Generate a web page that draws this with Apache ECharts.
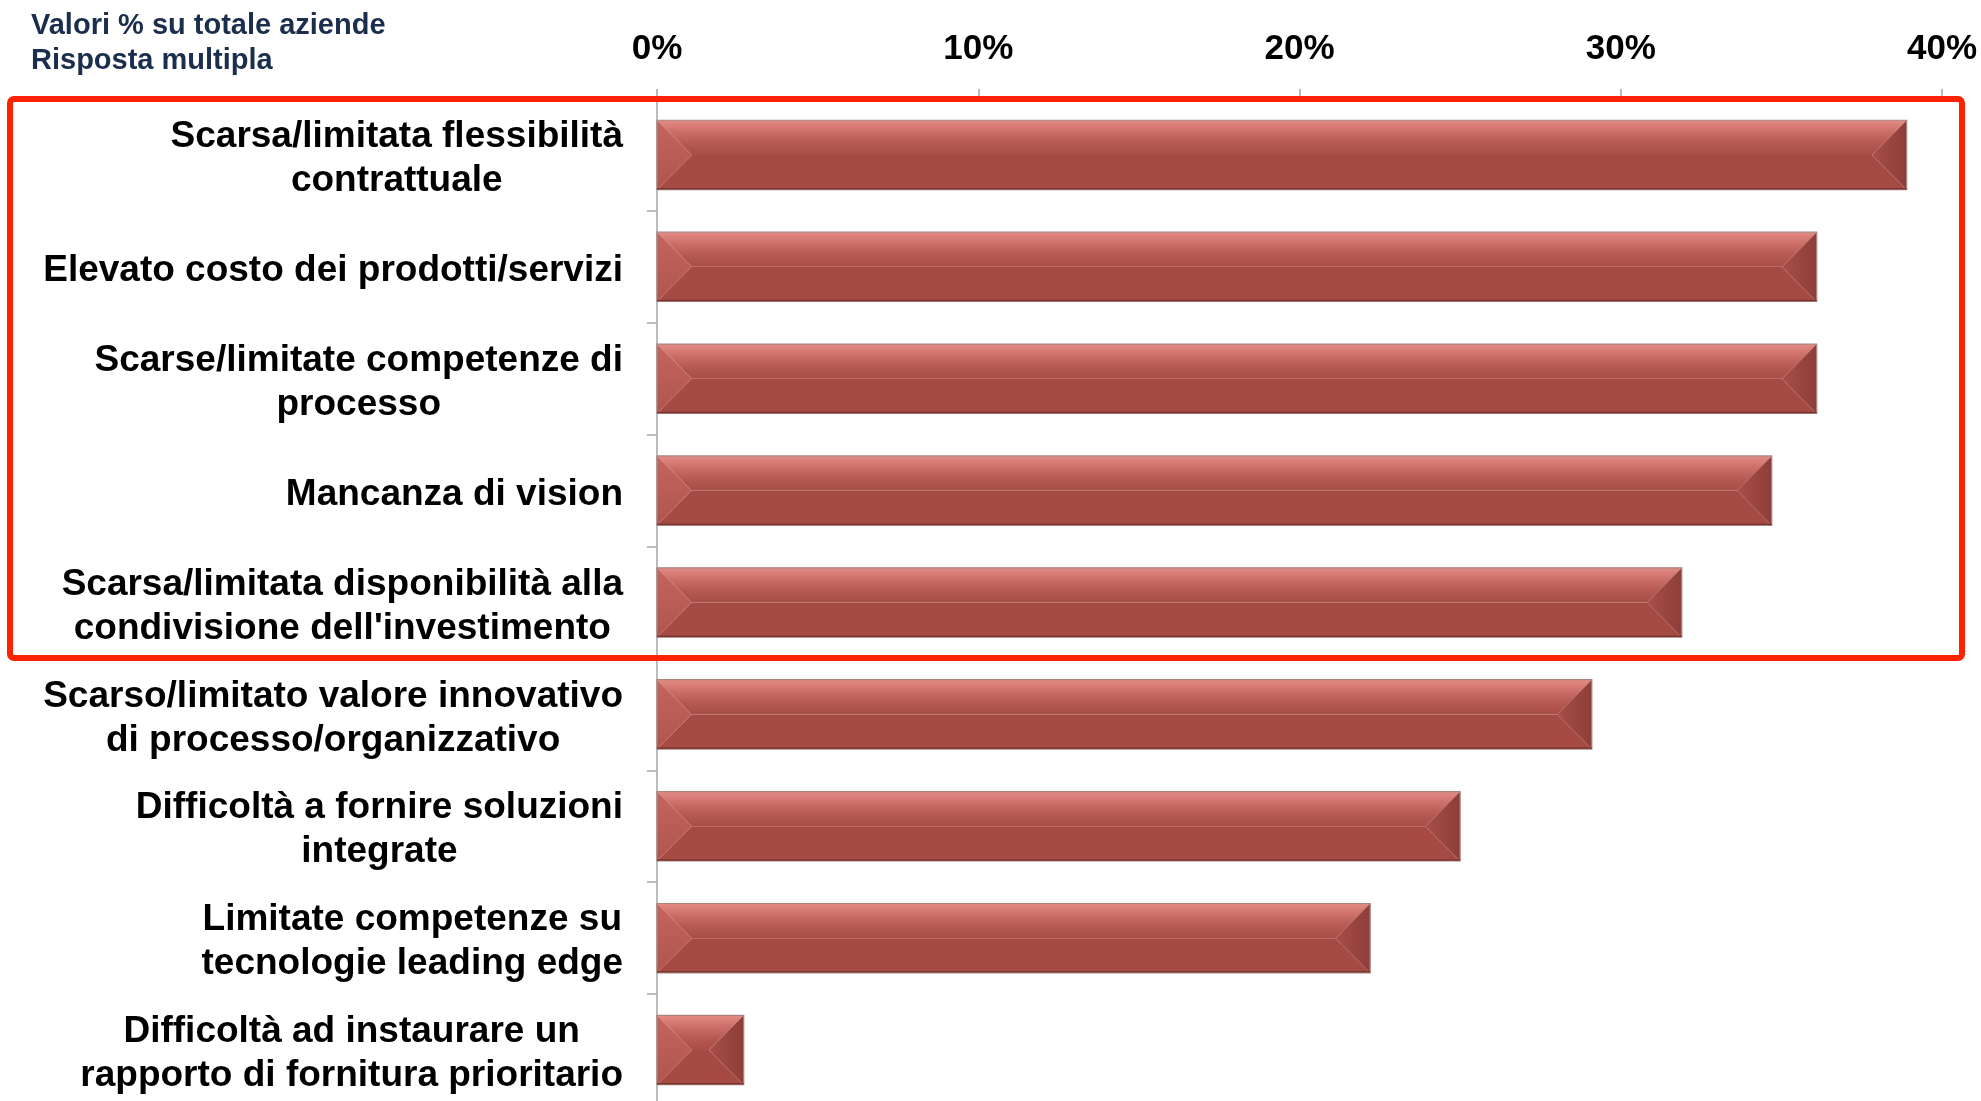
<!DOCTYPE html>
<html>
<head>
<meta charset="utf-8">
<script src="https://cdn.jsdelivr.net/npm/echarts@6/dist/echarts.min.js"></script>
<style>
  html, body { margin: 0; padding: 0; background: #fff; overflow: hidden; }
  #chart { width: 1981px; height: 1101px; }
</style>
</head>
<body>
<div id="chart"></div>
<script>
// categories top to bottom
const categories = [
  'Scarsa/limitata flessibilità\ncontrattuale',
  'Elevato costo dei prodotti/servizi',
  'Scarse/limitate competenze di\nprocesso',
  'Mancanza di vision',
  'Scarsa/limitata disponibilità alla\ncondivisione dell\'investimento',
  'Scarso/limitato valore innovativo\ndi processo/organizzativo',
  'Difficoltà a fornire soluzioni\nintegrate',
  'Limitate competenze su\ntecnologie leading edge',
  'Difficoltà ad instaurare un\nrapporto di fornitura prioritario'
]
// % of firms
const values = [38.9, 36.1, 36.1, 34.7, 31.9, 29.1, 25.0, 22.2, 2.7]
const xTicks = [0, 10, 20, 30, 40]

const chart = echarts.init(document.getElementById('chart'))

// bevelled bar, like the office "bevel" effect
function renderBar(params, api) {
  const v = api.value(0)
  const idx = api.value(1)
  const p0 = api.coord([0, idx])
  const p1 = api.coord([v, idx])
  const h = api.size([0, 1])[1] * 0.62
  const x0 = p0[0], x1 = p1[0]
  const y0 = p0[1] - h / 2, y1 = p0[1] + h / 2, yc = p0[1]
  const d = Math.min(h / 2, (x1 - x0) / 2)
  return {
    type: 'group',
    children: [
      {
        type: 'polygon',
        shape: { points: [[x0, y0], [x1, y0], [x1 - d, yc], [x0 + d, yc]] },
        style: {
          fill: new echarts.graphic.LinearGradient(0, 0, 0, 1, [
            { offset: 0, color: '#e38b85' },
            { offset: 0.3, color: '#cf716a' },
            { offset: 0.65, color: '#b65a53' },
            { offset: 1, color: '#a84e47' }
          ])
        }
      },
      {
        type: 'polygon',
        shape: { points: [[x0, y1], [x1, y1], [x1 - d, yc], [x0 + d, yc]] },
        style: { fill: '#a54b44' }
      },
      {
        type: 'polygon',
        shape: { points: [[x0, y0], [x0 + d, yc], [x0, y1]] },
        style: {
          fill: new echarts.graphic.LinearGradient(0, 0, 0, 1, [
            { offset: 0, color: '#c4655e' },
            { offset: 1, color: '#b0544d' }
          ])
        }
      },
      {
        type: 'polygon',
        shape: { points: [[x1, y0], [x1 - d, yc], [x1, y1]] },
        style: {
          fill: new echarts.graphic.LinearGradient(0, 0, 1, 0, [
            { offset: 0, color: '#a84e47' },
            { offset: 1, color: '#8d3e38' }
          ])
        }
      },
      {
        type: 'rect',
        shape: { x: x0, y: y0, width: x1 - x0, height: h },
        style: { fill: null, stroke: '#a88480', lineWidth: 1.2 }
      },
      {
        type: 'line',
        shape: { x1: x0, y1: y1 - 1, x2: x1, y2: y1 - 1 },
        style: { stroke: '#7e3632', lineWidth: 1.5 }
      }
    ]
  }
}

const option = {
  animation: false,
  backgroundColor: '#fff',
  title: {
    text: 'Valori % su totale aziende\nRisposta multipla',
    left: 26,
    top: 3,
    textStyle: {
      fontFamily: 'Liberation Sans, Arial, sans-serif',
      fontSize: 29,
      fontWeight: 'bold',
      lineHeight: 35,
      color: '#1b2e4d'
    }
  },
  grid: {
    left: 657,
    right: 39,
    top: 99,
    height: 1007,
    containLabel: false,
    outerBoundsMode: 'none'
  },
  xAxis: {
    type: 'value',
    position: 'top',
    min: 0,
    max: 40,
    interval: 10,
    splitLine: { show: false },
    axisLine: { show: false },
    axisTick: { show: true, length: 10, lineStyle: { color: '#a6a6a6', width: 1.5 } },
    axisLabel: {
      margin: 32,
      formatter: v => xTicks.includes(v) ? v + '%' : '',
      fontFamily: 'Liberation Sans, Arial, sans-serif',
      fontSize: 35,
      fontWeight: 'bold',
      color: '#000'
    }
  },
  yAxis: {
    type: 'category',
    inverse: true,
    data: categories,
    axisLine: { show: true, lineStyle: { color: '#a6a6a6', width: 1.5 } },
    axisTick: { show: true, length: 10, lineStyle: { color: '#a6a6a6', width: 1.5 } },
    axisLabel: {
      margin: 34,
      padding: [8, 0, 0, 0],
      formatter: v => v.split('\n').map(s => '{c|' + s + '}').join('\n'),
      rich: {
        c: {
          fontFamily: 'Liberation Sans, Arial, sans-serif',
          fontSize: 37,
          fontWeight: 'bold',
          lineHeight: 44,
          align: 'center',
          color: '#000'
        }
      }
    }
  },
  series: [{
    type: 'custom',
    renderItem: renderBar,
    encode: { x: 0, y: 1 },
    data: values.map((v, i) => [v, i])
  }],
  graphic: [{
    type: 'rect',
    z: 100,
    shape: { x: 10, y: 99, width: 1952, height: 559, r: 4 },
    style: { fill: null, stroke: '#ff2200', lineWidth: 6 }
  }]
}

chart.setOption(option)
</script>
</body>
</html>
